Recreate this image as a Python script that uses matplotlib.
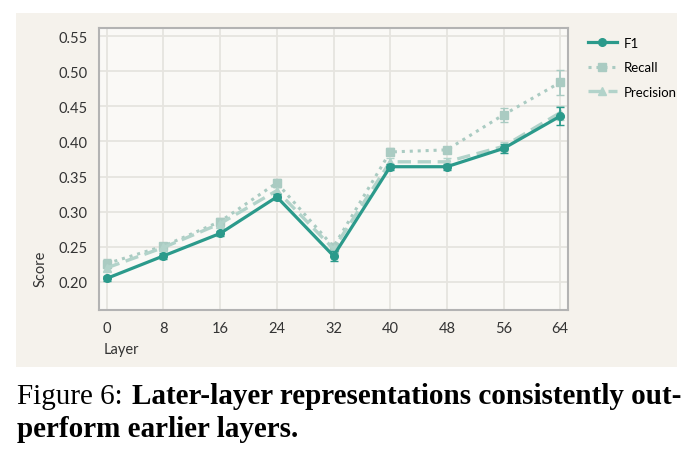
import matplotlib.pyplot as plt
from matplotlib.patches import Rectangle
from matplotlib.lines import Line2D

layers = [0, 8, 16, 24, 32, 40, 48, 56, 64]
f1 = [0.205, 0.237, 0.269, 0.321, 0.237, 0.364, 0.364, 0.390, 0.436]
recall = [0.226, 0.251, 0.286, 0.341, 0.250, 0.385, 0.388, 0.438, 0.484]
precision = [0.220, 0.249, 0.283, 0.330, 0.247, 0.371, 0.371, 0.393, 0.441]
f1_err = [0.004, 0.004, 0.004, 0.004, 0.007, 0.004, 0.004, 0.006, 0.013]
recall_err = [0.006, 0.005, 0.005, 0.006, 0.006, 0.005, 0.004, 0.010, 0.018]
precision_err = [0.005, 0.004, 0.004, 0.005, 0.006, 0.005, 0.006, 0.006, 0.010]
yticks = [0.20, 0.25, 0.30, 0.35, 0.40, 0.45, 0.50, 0.55]

W, H = 698, 460
plt.rcParams['font.family'] = ['Lato', 'DejaVu Sans']
fig = plt.figure(figsize=(W / 100, H / 100), dpi=100)
fig.patch.set_facecolor('white')

# beige panel behind the plot
fig.patches.append(Rectangle((16 / W, 1 - 368 / H), (677 - 16) / W, (368 - 14) / H,
                             transform=fig.transFigure, facecolor='#f5f2ec',
                             edgecolor='none', zorder=-10))

ax = fig.add_axes([99 / W, 1 - 311 / H, (568 - 99) / W, (311 - 29) / H])
ax.set_facecolor('#faf9f6')

teal = '#2b9a8b'
light = '#b2d3ca'
mid = '#aacbc2'

rec_style = dict(color=mid, lw=2.2, ls=(0, (1, 1.6)), marker='s', ms=6)
pre_style = dict(color=light, lw=2.4, ls=(0, (4, 2)), marker='^', ms=6)
f1_style = dict(color=teal, lw=2.3, marker='o', ms=5.5)

ax.errorbar(layers, recall, yerr=recall_err, capsize=3, elinewidth=1.3, zorder=3, **rec_style)
ax.errorbar(layers, precision, yerr=precision_err, capsize=3, elinewidth=1.3, zorder=3, **pre_style)
ax.errorbar(layers, f1, yerr=f1_err, capsize=3, elinewidth=1.3, zorder=4, **f1_style)

ax.set_xlim(-1.1, 65.1)
ax.set_ylim(0.160, 0.5615)
ax.set_xticks(layers)
ax.set_yticks(yticks)
ax.set_yticklabels([f'{v:.2f}' for v in yticks])
ax.grid(True, color='#e6e4df', lw=1.3)
ax.set_axisbelow(True)
ax.tick_params(length=0, labelsize=10.5, labelcolor='#333333', pad=8)
for s in ax.spines.values():
    s.set_color('#b3b3b3')
    s.set_linewidth(1.5)

fig.text(104 / W, 1 - 350 / H, 'Layer', fontsize=10.5, color='#333333', ha='left', va='center')
fig.text(41 / W, 1 - 269 / H, 'Score', fontsize=10.5, color='#333333', rotation=90,
         ha='center', va='center')

handles = [Line2D([], [], **f1_style), Line2D([], [], **rec_style), Line2D([], [], **pre_style)]
fig.legend(handles, ['F1', 'Recall', 'Precision'], loc='upper left',
           bbox_to_anchor=(576 / W, 1 - 26 / H), frameon=False, fontsize=9.5,
           handlelength=2.2, labelspacing=0.95, handletextpad=0.5)

fig.text(17 / W, 1 - 404 / H, 'Figure 6:', fontsize=21, family='Liberation Serif',
         ha='left', va='baseline')
fig.text(132 / W, 1 - 404 / H, 'Later-layer representations consistently out-',
         fontsize=21, family='Liberation Serif', weight='bold', ha='left', va='baseline')
fig.text(17 / W, 1 - 437 / H, 'perform earlier layers.', fontsize=21,
         family='Liberation Serif', weight='bold', ha='left', va='baseline')

fig.savefig('out.png', dpi=100)
